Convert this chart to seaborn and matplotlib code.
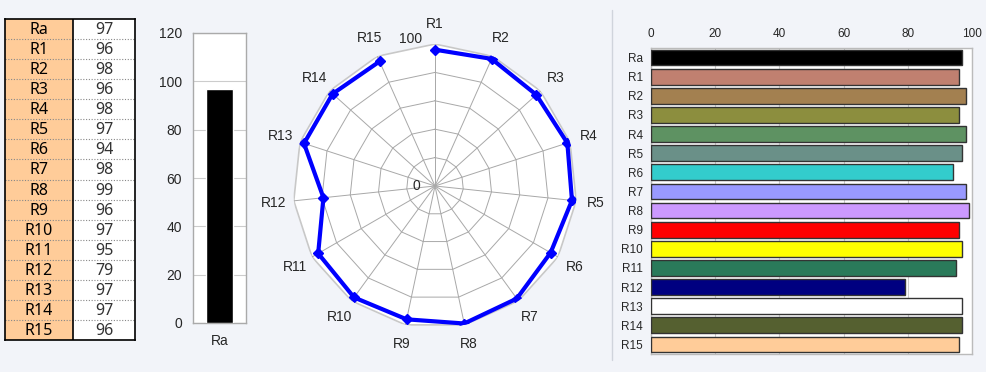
import numpy as np
import matplotlib
matplotlib.use("Agg")
import matplotlib.pyplot as plt
from matplotlib.lines import Line2D
import seaborn as sns

# ---- data ----
labels = ['Ra', 'R1', 'R2', 'R3', 'R4', 'R5', 'R6', 'R7', 'R8', 'R9',
          'R10', 'R11', 'R12', 'R13', 'R14', 'R15']
values = [97, 96, 98, 96, 98, 97, 94, 98, 99, 96, 97, 95, 79, 97, 97, 96]
bar_colors = ['#000000', '#C08070', '#A38050', '#8C8E3E', '#5E9262', '#6A9088',
              '#33CCCC', '#9999FF', '#CC99FF', '#FF0000', '#FFFF00', '#2A7A5A',
              '#000080', '#FFFFFF', '#556030', '#FFCC99']
radar_labels = labels[1:]
radar_values = values[1:]
yticks_v = [0, 20, 40, 60, 80, 100, 120]
xticks_h = [0, 20, 40, 60, 80, 100]

BG = '#F2F4F9'
sns.set_theme(style='white')
plt.rcParams['font.family'] = ['Liberation Sans', 'DejaVu Sans']

fig = plt.figure(figsize=(9.86, 3.72), dpi=100, facecolor=BG)

# ---- table ----
axt = fig.add_axes([5/986, 1-340/372, 130/986, 321/372])
n = len(labels)
axt.set_xlim(0, 130)
axt.set_ylim(n, 0)
axt.axvspan(0, 68, color='#FFCC99', zorder=0)
axt.axvspan(68, 130, color='white', zorder=0)
for i in range(1, n):
    axt.axhline(i, color='#888888', lw=0.8, ls=(0, (1, 1.5)), zorder=1)
axt.axvline(68, color='black', lw=1.2, zorder=2)
for i, (lab, v) in enumerate(zip(labels, values)):
    axt.text(34, i + 0.55, lab, ha='center', va='center', fontsize=11.5,
             family=['Noto Sans', 'DejaVu Sans'], color='black')
    axt.text(99, i + 0.55, str(v), ha='center', va='center', fontsize=11.5,
             family=['Noto Sans', 'DejaVu Sans'], color='#333333')
axt.set_xticks([]); axt.set_yticks([])
for s in axt.spines.values():
    s.set_color('black'); s.set_linewidth(1.2)

# ---- single bar ----
axb = fig.add_axes([193/986, 1-323/372, 53/986, 290/372])
axb.set_facecolor('white')
sns.barplot(x=[labels[0]], y=[values[0]], color='black', width=0.5,
            saturation=1, ax=axb, zorder=3)
axb.set_ylim(0, 120)
axb.set_yticks(yticks_v)
axb.yaxis.grid(True, color='#CCCCCC', lw=0.8)
axb.set_axisbelow(True)
axb.tick_params(axis='both', length=0, labelsize=10, pad=8)
axb.set_xlabel(''); axb.set_ylabel('')
for s in axb.spines.values():
    s.set_color('#AAAAAA'); s.set_linewidth(1)

# ---- radar ----
R = 142
axr = fig.add_axes([(435-R)/986, 1-(186+R)/372, 2*R/986, 2*R/372], projection='polar')
axr.set_facecolor('none')
axr.set_theta_zero_location('N')
axr.set_theta_direction(-1)
m = len(radar_labels)
ang = np.linspace(0, 2*np.pi, m, endpoint=False)
angc = np.append(ang, ang[0])
axr.fill(angc, np.full(m+1, 100), color='white', zorder=0)
for r in [20, 40, 60, 80]:
    axr.plot(angc, np.full(m+1, r), color='#A8A8A8', lw=0.7, zorder=1)
axr.plot(angc, np.full(m+1, 100), color='#C8C8C8', lw=1.2, zorder=1)
for a in ang:
    axr.plot([a, a], [0, 100], color='#A8A8A8', lw=0.7, zorder=1)
sns.lineplot(x=np.append(ang, ang[0]), y=np.append(radar_values, radar_values[0]),
             ax=axr, color='#0000FF', lw=3, sort=False, zorder=3)
axr.plot(ang, radar_values, ls='none', marker='D', ms=5, color='#0000FF', zorder=4)
for a, lab in zip(ang, radar_labels):
    axr.text(a, 114, lab, ha='center', va='center', fontsize=10, clip_on=False)
axr.text(np.deg2rad(-9.5), 105, '100', ha='center', va='center', fontsize=10, clip_on=False)
axr.text(np.deg2rad(-90), 13, '0', ha='center', va='center', fontsize=10, clip_on=False)
axr.set_ylim(0, 100)
axr.grid(False)
axr.set_xticks([]); axr.set_yticks([])
axr.spines['polar'].set_visible(False)
axr.set_xlabel(''); axr.set_ylabel('')

# ---- panel separator ----
fig.add_artist(Line2D([612/986, 612/986], [1-360/372, 1-10/372],
                      color='#D0D4DC', lw=1))

# ---- horizontal bars ----
axh = fig.add_axes([651/986, 1-354/372, 321/986, 306/372])
axh.set_facecolor('white')
sns.barplot(x=values, y=labels, hue=labels, palette=bar_colors, legend=False,
            orient='h', width=0.82, saturation=1, edgecolor='#333333',
            linewidth=1, ax=axh, zorder=3)
axh.set_xlim(0, 100)
axh.set_xticks(xticks_h)
axh.xaxis.tick_top()
axh.xaxis.grid(True, color='#CCCCCC', lw=0.8)
axh.set_axisbelow(True)
axh.tick_params(axis='both', length=0, labelsize=8.5, pad=6)
axh.set_xlabel(''); axh.set_ylabel('')
for s in axh.spines.values():
    s.set_color('#BBBBBB'); s.set_linewidth(1)

fig.savefig('out.png', dpi=100, facecolor=BG)
